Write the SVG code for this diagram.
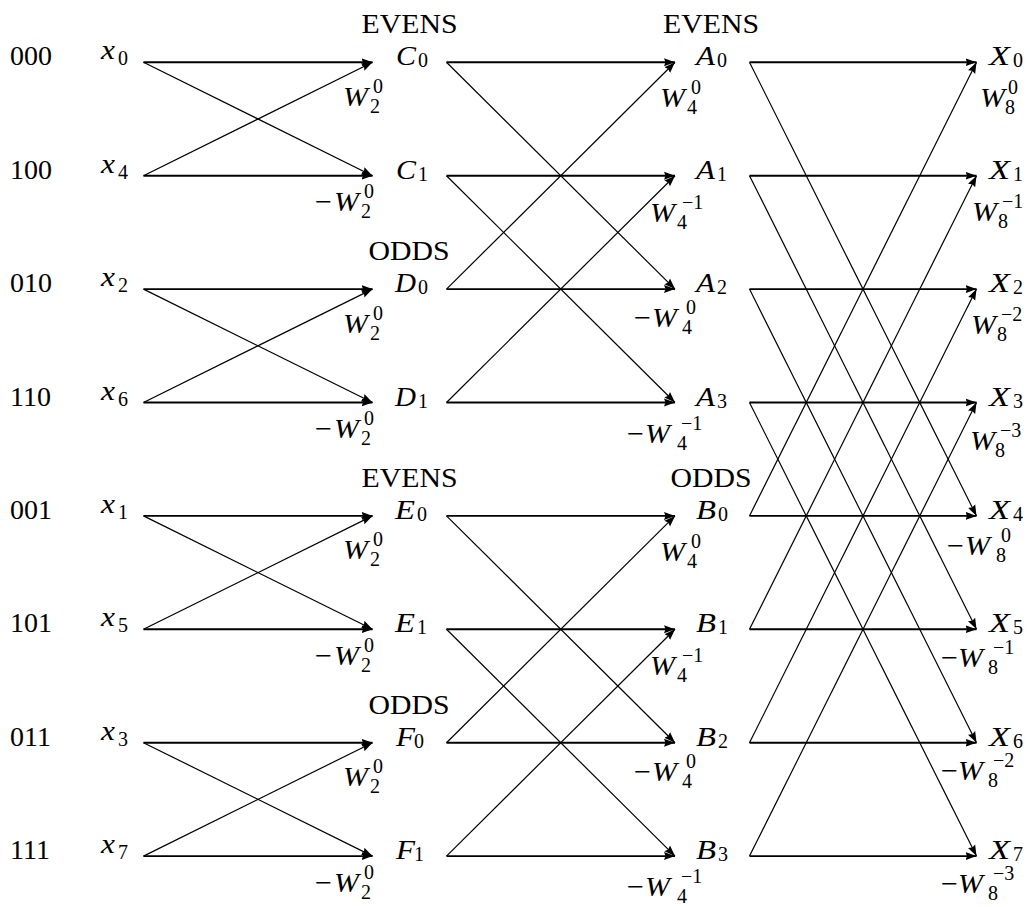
<svg xmlns="http://www.w3.org/2000/svg" width="1032" height="907" viewBox="0 0 1032 907">
<style>
text { font-family: "Liberation Serif", "Times New Roman", "DejaVu Serif", serif; fill: #000; }
.t { font-size: 28px; }
.i { font-size: 28px; font-style: italic; }
.s { font-size: 20px; }
.h { stroke: #000; stroke-width: 1.9; fill: none; marker-end: url(#ah); }
.d { stroke: #000; stroke-width: 1.2; fill: none; marker-end: url(#ah); }
</style>
<defs>
<marker id="ah" markerUnits="userSpaceOnUse" markerWidth="12" markerHeight="10" viewBox="0 -5 12 10" refX="11" refY="0" orient="auto">
<path d="M0,-4 L11,0 L0,4 L1.5,0 z" fill="#000"/>
</marker>
</defs>
<rect width="1032" height="907" fill="#fff"/>

<g id="connectors">
<line class="h" x1="143.5" y1="62.3" x2="372.5" y2="62.3"/>
<line class="h" x1="143.5" y1="175.7" x2="372.5" y2="175.7"/>
<line class="h" x1="143.5" y1="289.1" x2="372.5" y2="289.1"/>
<line class="h" x1="143.5" y1="402.5" x2="372.5" y2="402.5"/>
<line class="h" x1="143.5" y1="515.9" x2="372.5" y2="515.9"/>
<line class="h" x1="143.5" y1="629.3" x2="372.5" y2="629.3"/>
<line class="h" x1="143.5" y1="742.7" x2="372.5" y2="742.7"/>
<line class="h" x1="143.5" y1="856.1" x2="372.5" y2="856.1"/>
<line class="d" x1="143.5" y1="62.3" x2="372.5" y2="175.7"/>
<line class="d" x1="143.5" y1="175.7" x2="372.5" y2="62.3"/>
<line class="d" x1="143.5" y1="289.1" x2="372.5" y2="402.5"/>
<line class="d" x1="143.5" y1="402.5" x2="372.5" y2="289.1"/>
<line class="d" x1="143.5" y1="515.9" x2="372.5" y2="629.3"/>
<line class="d" x1="143.5" y1="629.3" x2="372.5" y2="515.9"/>
<line class="d" x1="143.5" y1="742.7" x2="372.5" y2="856.1"/>
<line class="d" x1="143.5" y1="856.1" x2="372.5" y2="742.7"/>

<line class="h" x1="446.5" y1="62.3" x2="675" y2="62.3"/>
<line class="h" x1="446.5" y1="175.7" x2="675" y2="175.7"/>
<line class="h" x1="446.5" y1="289.1" x2="675" y2="289.1"/>
<line class="h" x1="446.5" y1="402.5" x2="675" y2="402.5"/>
<line class="h" x1="446.5" y1="515.9" x2="675" y2="515.9"/>
<line class="h" x1="446.5" y1="629.3" x2="675" y2="629.3"/>
<line class="h" x1="446.5" y1="742.7" x2="675" y2="742.7"/>
<line class="h" x1="446.5" y1="856.1" x2="675" y2="856.1"/>
<line class="d" x1="446.5" y1="62.3" x2="675" y2="289.1"/>
<line class="d" x1="446.5" y1="289.1" x2="675" y2="62.3"/>
<line class="d" x1="446.5" y1="175.7" x2="675" y2="402.5"/>
<line class="d" x1="446.5" y1="402.5" x2="675" y2="175.7"/>
<line class="d" x1="446.5" y1="515.9" x2="675" y2="742.7"/>
<line class="d" x1="446.5" y1="742.7" x2="675" y2="515.9"/>
<line class="d" x1="446.5" y1="629.3" x2="675" y2="856.1"/>
<line class="d" x1="446.5" y1="856.1" x2="675" y2="629.3"/>

<line class="h" x1="749.5" y1="62.3" x2="976.5" y2="62.3"/>
<line class="h" x1="749.5" y1="175.7" x2="976.5" y2="175.7"/>
<line class="h" x1="749.5" y1="289.1" x2="976.5" y2="289.1"/>
<line class="h" x1="749.5" y1="402.5" x2="976.5" y2="402.5"/>
<line class="h" x1="749.5" y1="515.9" x2="976.5" y2="515.9"/>
<line class="h" x1="749.5" y1="629.3" x2="976.5" y2="629.3"/>
<line class="h" x1="749.5" y1="742.7" x2="976.5" y2="742.7"/>
<line class="h" x1="749.5" y1="856.1" x2="976.5" y2="856.1"/>
<line class="d" x1="749.5" y1="62.3" x2="976.5" y2="515.9"/>
<line class="d" x1="749.5" y1="515.9" x2="976.5" y2="62.3"/>
<line class="d" x1="749.5" y1="175.7" x2="976.5" y2="629.3"/>
<line class="d" x1="749.5" y1="629.3" x2="976.5" y2="175.7"/>
<line class="d" x1="749.5" y1="289.1" x2="976.5" y2="742.7"/>
<line class="d" x1="749.5" y1="742.7" x2="976.5" y2="289.1"/>
<line class="d" x1="749.5" y1="402.5" x2="976.5" y2="856.1"/>
<line class="d" x1="749.5" y1="856.1" x2="976.5" y2="402.5"/>
</g>

<g id="bits">
<text class="t" x="10" y="65.3">000</text>
<text class="t" x="10" y="178.7">100</text>
<text class="t" x="10" y="292.1">010</text>
<text class="t" x="10" y="405.5">110</text>
<text class="t" x="10" y="518.9">001</text>
<text class="t" x="10" y="632.3">101</text>
<text class="t" x="10" y="745.7">011</text>
<text class="t" x="10" y="859.1">111</text>
</g>

<g id="n-x0"><text class="i" x="101" y="59.3" textLength="14" lengthAdjust="spacingAndGlyphs">x</text><text class="s" x="118" y="65.3">0</text></g>
<g id="n-x4"><text class="i" x="101" y="172.7" textLength="14" lengthAdjust="spacingAndGlyphs">x</text><text class="s" x="118" y="178.7">4</text></g>
<g id="n-x2"><text class="i" x="101" y="286.1" textLength="14" lengthAdjust="spacingAndGlyphs">x</text><text class="s" x="118" y="292.1">2</text></g>
<g id="n-x6"><text class="i" x="101" y="399.5" textLength="14" lengthAdjust="spacingAndGlyphs">x</text><text class="s" x="118" y="405.5">6</text></g>
<g id="n-x1"><text class="i" x="101" y="512.9" textLength="14" lengthAdjust="spacingAndGlyphs">x</text><text class="s" x="118" y="518.9">1</text></g>
<g id="n-x5"><text class="i" x="101" y="626.3" textLength="14" lengthAdjust="spacingAndGlyphs">x</text><text class="s" x="118" y="632.3">5</text></g>
<g id="n-x3"><text class="i" x="101" y="739.7" textLength="14" lengthAdjust="spacingAndGlyphs">x</text><text class="s" x="118" y="745.7">3</text></g>
<g id="n-x7"><text class="i" x="101" y="853.1" textLength="14" lengthAdjust="spacingAndGlyphs">x</text><text class="s" x="118" y="859.1">7</text></g>

<g id="headers">
<text class="t" x="409.5" y="33.3" text-anchor="middle" textLength="96" lengthAdjust="spacingAndGlyphs">EVENS</text>
<text class="t" x="409" y="260.1" text-anchor="middle" textLength="81" lengthAdjust="spacingAndGlyphs">ODDS</text>
<text class="t" x="409.5" y="486.9" text-anchor="middle" textLength="96" lengthAdjust="spacingAndGlyphs">EVENS</text>
<text class="t" x="409" y="713.7" text-anchor="middle" textLength="81" lengthAdjust="spacingAndGlyphs">ODDS</text>
<text class="t" x="711" y="33.3" text-anchor="middle" textLength="96" lengthAdjust="spacingAndGlyphs">EVENS</text>
<text class="t" x="711" y="486.9" text-anchor="middle" textLength="81" lengthAdjust="spacingAndGlyphs">ODDS</text>
</g>

<g id="n-C0"><text class="i" x="396" y="65.3" textLength="20" lengthAdjust="spacingAndGlyphs">C</text><text class="s" x="418" y="67.3">0</text></g>
<g id="n-C1"><text class="i" x="396" y="178.7" textLength="20" lengthAdjust="spacingAndGlyphs">C</text><text class="s" x="418" y="180.7">1</text></g>
<g id="n-D0"><text class="i" x="395" y="292.1" textLength="21" lengthAdjust="spacingAndGlyphs">D</text><text class="s" x="418" y="294.1">0</text></g>
<g id="n-D1"><text class="i" x="395" y="405.5" textLength="21" lengthAdjust="spacingAndGlyphs">D</text><text class="s" x="418" y="407.5">1</text></g>
<g id="n-E0"><text class="i" x="395" y="518.9" textLength="20" lengthAdjust="spacingAndGlyphs">E</text><text class="s" x="417" y="520.9">0</text></g>
<g id="n-E1"><text class="i" x="395" y="632.3" textLength="20" lengthAdjust="spacingAndGlyphs">E</text><text class="s" x="417" y="634.3">1</text></g>
<g id="n-F0"><text class="i" x="396" y="745.7" textLength="19" lengthAdjust="spacingAndGlyphs">F</text><text class="s" x="414" y="747.7">0</text></g>
<g id="n-F1"><text class="i" x="396" y="859.1" textLength="19" lengthAdjust="spacingAndGlyphs">F</text><text class="s" x="414" y="861.1">1</text></g>

<g id="n-A0"><text class="i" x="696" y="65.3" textLength="19" lengthAdjust="spacingAndGlyphs">A</text><text class="s" x="717" y="67.3">0</text></g>
<g id="n-A1"><text class="i" x="696" y="178.7" textLength="19" lengthAdjust="spacingAndGlyphs">A</text><text class="s" x="717" y="180.7">1</text></g>
<g id="n-A2"><text class="i" x="696" y="292.1" textLength="19" lengthAdjust="spacingAndGlyphs">A</text><text class="s" x="717" y="294.1">2</text></g>
<g id="n-A3"><text class="i" x="696" y="405.5" textLength="19" lengthAdjust="spacingAndGlyphs">A</text><text class="s" x="717" y="407.5">3</text></g>
<g id="n-B0"><text class="i" x="696" y="518.9" textLength="20" lengthAdjust="spacingAndGlyphs">B</text><text class="s" x="718" y="520.9">0</text></g>
<g id="n-B1"><text class="i" x="696" y="632.3" textLength="20" lengthAdjust="spacingAndGlyphs">B</text><text class="s" x="718" y="634.3">1</text></g>
<g id="n-B2"><text class="i" x="696" y="745.7" textLength="20" lengthAdjust="spacingAndGlyphs">B</text><text class="s" x="718" y="747.7">2</text></g>
<g id="n-B3"><text class="i" x="696" y="859.1" textLength="20" lengthAdjust="spacingAndGlyphs">B</text><text class="s" x="718" y="861.1">3</text></g>

<g id="n-X0"><text class="i" x="989" y="65.3" textLength="21" lengthAdjust="spacingAndGlyphs">X</text><text class="s" x="1013" y="67.3">0</text></g>
<g id="n-X1"><text class="i" x="989" y="178.7" textLength="21" lengthAdjust="spacingAndGlyphs">X</text><text class="s" x="1013" y="180.7">1</text></g>
<g id="n-X2"><text class="i" x="989" y="292.1" textLength="21" lengthAdjust="spacingAndGlyphs">X</text><text class="s" x="1013" y="294.1">2</text></g>
<g id="n-X3"><text class="i" x="989" y="405.5" textLength="21" lengthAdjust="spacingAndGlyphs">X</text><text class="s" x="1013" y="407.5">3</text></g>
<g id="n-X4"><text class="i" x="989" y="518.9" textLength="21" lengthAdjust="spacingAndGlyphs">X</text><text class="s" x="1013" y="520.9">4</text></g>
<g id="n-X5"><text class="i" x="989" y="632.3" textLength="21" lengthAdjust="spacingAndGlyphs">X</text><text class="s" x="1013" y="634.3">5</text></g>
<g id="n-X6"><text class="i" x="989" y="745.7" textLength="21" lengthAdjust="spacingAndGlyphs">X</text><text class="s" x="1013" y="747.7">6</text></g>
<g id="n-X7"><text class="i" x="989" y="859.1" textLength="21" lengthAdjust="spacingAndGlyphs">X</text><text class="s" x="1013" y="861.1">7</text></g>

<g id="weights-1">
<text class="i" x="343" y="105.8" textLength="25" lengthAdjust="spacingAndGlyphs">W</text><text class="s" x="373" y="92.8">0</text><text class="s" x="370" y="112.8">2</text>
<text class="t" x="315" y="211.2" textLength="17" lengthAdjust="spacingAndGlyphs">−</text><text class="i" x="334" y="211.2" textLength="25" lengthAdjust="spacingAndGlyphs">W</text><text class="s" x="364" y="198.2">0</text><text class="s" x="361" y="218.2">2</text>
<text class="i" x="343" y="332.6" textLength="25" lengthAdjust="spacingAndGlyphs">W</text><text class="s" x="373" y="319.6">0</text><text class="s" x="370" y="339.6">2</text>
<text class="t" x="315" y="438" textLength="17" lengthAdjust="spacingAndGlyphs">−</text><text class="i" x="334" y="438" textLength="25" lengthAdjust="spacingAndGlyphs">W</text><text class="s" x="364" y="425">0</text><text class="s" x="361" y="445">2</text>
<text class="i" x="343" y="559.4" textLength="25" lengthAdjust="spacingAndGlyphs">W</text><text class="s" x="373" y="546.4">0</text><text class="s" x="370" y="566.4">2</text>
<text class="t" x="315" y="664.8" textLength="17" lengthAdjust="spacingAndGlyphs">−</text><text class="i" x="334" y="664.8" textLength="25" lengthAdjust="spacingAndGlyphs">W</text><text class="s" x="364" y="651.8">0</text><text class="s" x="361" y="671.8">2</text>
<text class="i" x="343" y="786.2" textLength="25" lengthAdjust="spacingAndGlyphs">W</text><text class="s" x="373" y="773.2">0</text><text class="s" x="370" y="793.2">2</text>
<text class="t" x="315" y="891.6" textLength="17" lengthAdjust="spacingAndGlyphs">−</text><text class="i" x="334" y="891.6" textLength="25" lengthAdjust="spacingAndGlyphs">W</text><text class="s" x="364" y="878.6">0</text><text class="s" x="361" y="898.6">2</text>
</g>

<g id="weights-2">
<text class="i" x="660" y="107.3" textLength="25" lengthAdjust="spacingAndGlyphs">W</text><text class="s" x="691" y="94.3">0</text><text class="s" x="687" y="114.3">4</text>
<text class="i" x="650" y="221.7" textLength="25" lengthAdjust="spacingAndGlyphs">W</text><text class="s" x="682" y="208.7">−1</text><text class="s" x="677" y="228.7">4</text>
<text class="t" x="634" y="327.1" textLength="17" lengthAdjust="spacingAndGlyphs">−</text><text class="i" x="652" y="327.1" textLength="25" lengthAdjust="spacingAndGlyphs">W</text><text class="s" x="686" y="314.1">0</text><text class="s" x="682" y="334.1">4</text>
<text class="t" x="627" y="442.5" textLength="17" lengthAdjust="spacingAndGlyphs">−</text><text class="i" x="645" y="442.5" textLength="25" lengthAdjust="spacingAndGlyphs">W</text><text class="s" x="681" y="429.5">−1</text><text class="s" x="677" y="449.5">4</text>
<text class="i" x="660" y="560.9" textLength="25" lengthAdjust="spacingAndGlyphs">W</text><text class="s" x="691" y="547.9">0</text><text class="s" x="687" y="567.9">4</text>
<text class="i" x="650" y="675.3" textLength="25" lengthAdjust="spacingAndGlyphs">W</text><text class="s" x="682" y="662.3">−1</text><text class="s" x="677" y="682.3">4</text>
<text class="t" x="634" y="780.7" textLength="17" lengthAdjust="spacingAndGlyphs">−</text><text class="i" x="652" y="780.7" textLength="25" lengthAdjust="spacingAndGlyphs">W</text><text class="s" x="686" y="767.7">0</text><text class="s" x="682" y="787.7">4</text>
<text class="t" x="627" y="896.1" textLength="17" lengthAdjust="spacingAndGlyphs">−</text><text class="i" x="645" y="896.1" textLength="25" lengthAdjust="spacingAndGlyphs">W</text><text class="s" x="681" y="883.1">−1</text><text class="s" x="677" y="903.1">4</text>
</g>

<g id="weights-3">
<text class="i" x="980" y="107" textLength="25" lengthAdjust="spacingAndGlyphs">W</text><text class="s" x="1008" y="94">0</text><text class="s" x="1005" y="114">8</text>
<text class="i" x="972" y="221" textLength="25" lengthAdjust="spacingAndGlyphs">W</text><text class="s" x="1002" y="208">−1</text><text class="s" x="998" y="228">8</text>
<text class="i" x="971" y="334" textLength="25" lengthAdjust="spacingAndGlyphs">W</text><text class="s" x="1001" y="321">−2</text><text class="s" x="997" y="341">8</text>
<text class="i" x="970" y="450" textLength="25" lengthAdjust="spacingAndGlyphs">W</text><text class="s" x="1000" y="437">−3</text><text class="s" x="995" y="457">8</text>
<text class="t" x="947" y="555" textLength="17" lengthAdjust="spacingAndGlyphs">−</text><text class="i" x="965" y="555" textLength="25" lengthAdjust="spacingAndGlyphs">W</text><text class="s" x="1001" y="542">0</text><text class="s" x="996" y="562">8</text>
<text class="t" x="941" y="667" textLength="17" lengthAdjust="spacingAndGlyphs">−</text><text class="i" x="958" y="667" textLength="25" lengthAdjust="spacingAndGlyphs">W</text><text class="s" x="993" y="654">−1</text><text class="s" x="988" y="674">8</text>
<text class="t" x="941" y="780" textLength="17" lengthAdjust="spacingAndGlyphs">−</text><text class="i" x="958" y="780" textLength="25" lengthAdjust="spacingAndGlyphs">W</text><text class="s" x="993" y="767">−2</text><text class="s" x="988" y="787">8</text>
<text class="t" x="941" y="893" textLength="17" lengthAdjust="spacingAndGlyphs">−</text><text class="i" x="958" y="893" textLength="25" lengthAdjust="spacingAndGlyphs">W</text><text class="s" x="993" y="880">−3</text><text class="s" x="988" y="900">8</text>
</g>
</svg>
